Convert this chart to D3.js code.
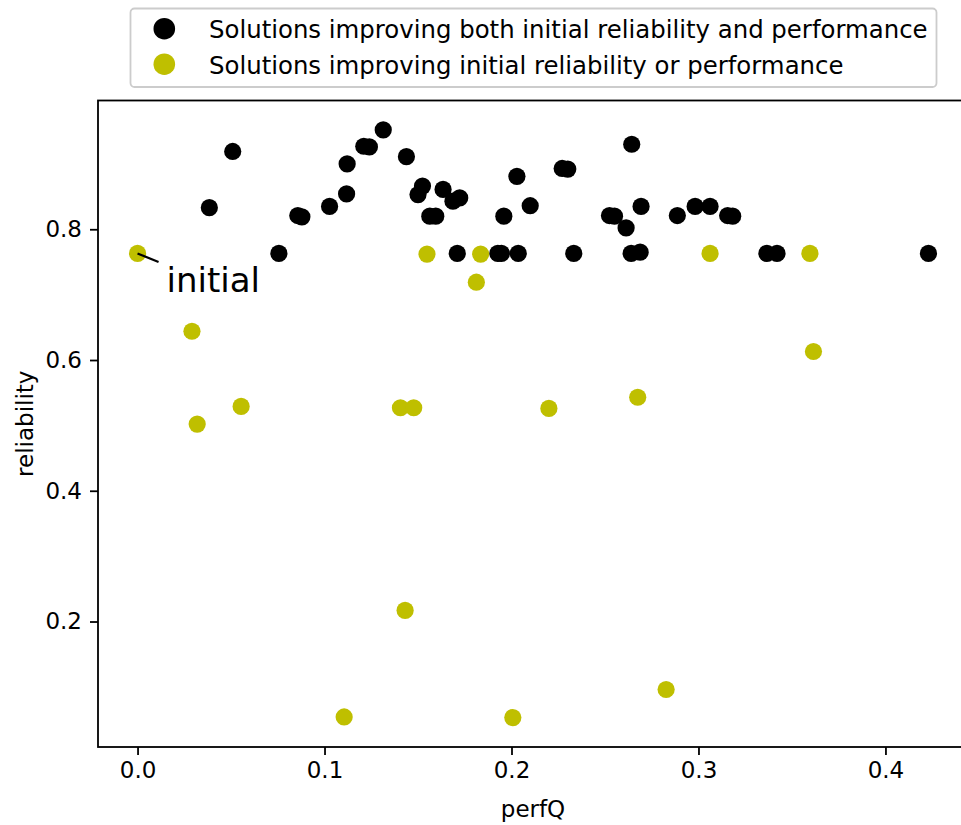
<!DOCTYPE html>
<html>
<head>
<meta charset="utf-8">
<script src="https://cdn.jsdelivr.net/npm/d3@7"></script>
<style>
  html, body { margin: 0; padding: 0; background: #fff; overflow: hidden; }
  svg { display: block; font-family: "DejaVu Sans", sans-serif; }
</style>
</head>
<body>
<svg id="chart" width="961" height="825"></svg>
<script>
// ---- data ----
const seriesNames = [
  "Solutions improving both initial reliability and performance",
  "Solutions improving initial reliability or performance"
];
const bothX = [0.0509, 0.0384, 0.0756, 0.0857, 0.0879, 0.1027, 0.1118, 0.1121, 0.1210, 0.1240,
               0.1314, 0.1438, 0.1524, 0.1500, 0.1634, 0.1687, 0.1723, 0.1563, 0.1595, 0.1710,
               0.1927, 0.1946, 0.2036, 0.1959, 0.2029, 0.2100, 0.2271, 0.2301, 0.2333, 0.2643,
               0.2524, 0.2551, 0.2613, 0.2693, 0.2640, 0.2688, 0.2887, 0.2982, 0.3062, 0.3156,
               0.3183, 0.3366, 0.3420, 0.4230];
const bothY = [0.919, 0.833, 0.763, 0.821, 0.819, 0.835, 0.854, 0.900, 0.927, 0.926,
               0.952, 0.911, 0.866, 0.853, 0.861, 0.843, 0.848, 0.820, 0.820, 0.763,
               0.763, 0.763, 0.763, 0.820, 0.881, 0.836, 0.893, 0.892, 0.763, 0.930,
               0.821, 0.820, 0.802, 0.835, 0.763, 0.765, 0.821, 0.835, 0.835, 0.821,
               0.820, 0.763, 0.763, 0.763];
const eitherX = [0.0000, 0.0291, 0.0319, 0.0554, 0.1406, 0.1477, 0.1548, 0.1835, 0.1812, 0.2200,
                 0.2675, 0.3062, 0.3596, 0.3615, 0.1431, 0.1105, 0.2007, 0.2827];
const eitherY = [0.763, 0.644, 0.502, 0.529, 0.527, 0.527, 0.762, 0.762, 0.719, 0.526,
                 0.543, 0.763, 0.763, 0.613, 0.217, 0.054, 0.053, 0.096];
const xTicks = [0.0, 0.1, 0.2, 0.3, 0.4];
const yTicks = [0.2, 0.4, 0.6, 0.8];
const xLabel = "perfQ";
const yLabel = "reliability";
const annotationText = "initial";
const annotationIndex = 0; // point of eitherX/eitherY that is annotated

// ---- layout / style ----
const colors = ["#000000", "#bfbf00"];
const plot = { left: 98, right: 968, top: 100.5, bottom: 747 };
const tickFont = 23, labelFont = 23, legendFont = 24.4, annFont = 34;

const svg = d3.select("#chart");

function padded(ext) {
  const p = (ext[1] - ext[0]) * 0.05;
  return [ext[0] - p, ext[1] + p];
}
const xExt = d3.extent(bothX.concat(eitherX));
const yExt = d3.extent(bothY.concat(eitherY));
const x = d3.scaleLinear().domain(padded(xExt)).range([plot.left, plot.right]);
const y = d3.scaleLinear().domain(padded(yExt)).range([plot.bottom, plot.top]);

// axes
const xAxis = d3.axisBottom(x).tickValues(xTicks).tickFormat(d3.format(".1f")).tickSize(8).tickPadding(7);
const yAxis = d3.axisLeft(y).tickValues(yTicks).tickFormat(d3.format(".1f")).tickSize(8).tickPadding(8);

const gx = svg.append("g").attr("transform", `translate(0,${plot.bottom})`).call(xAxis);
const gy = svg.append("g").attr("transform", `translate(${plot.left},0)`).call(yAxis);
[gx, gy].forEach(g => {
  g.select(".domain").remove();
  g.selectAll(".tick line").attr("stroke", "#000").attr("stroke-width", 1.8);
  g.selectAll(".tick text").attr("fill", "#000").style("font-size", tickFont + "px")
    .style("font-family", "DejaVu Sans");
});

// spines
svg.append("rect")
  .attr("x", plot.left).attr("y", plot.top)
  .attr("width", plot.right - plot.left).attr("height", plot.bottom - plot.top)
  .attr("fill", "none").attr("stroke", "#000").attr("stroke-width", 1.8);

// axis labels
svg.append("text").attr("x", (plot.left + plot.right) / 2).attr("y", 817)
  .attr("text-anchor", "middle").style("font-size", labelFont + "px").text(xLabel);
svg.append("text").attr("transform", `translate(33,${(plot.top + plot.bottom) / 2}) rotate(-90)`)
  .attr("text-anchor", "middle").style("font-size", labelFont + "px").text(yLabel);

// points
const r = 8.6;
const both = bothX.map((v, i) => ({ x: v, y: bothY[i] }));
const either = eitherX.map((v, i) => ({ x: v, y: eitherY[i] }));
svg.append("g").selectAll("circle").data(both).join("circle")
  .attr("cx", d => x(d.x)).attr("cy", d => y(d.y)).attr("r", r).attr("fill", colors[0]);
svg.append("g").selectAll("circle").data(either).join("circle")
  .attr("cx", d => x(d.x)).attr("cy", d => y(d.y)).attr("r", r).attr("fill", colors[1]);

// annotation
const ax = x(eitherX[annotationIndex]), ay = y(eitherY[annotationIndex]);
svg.append("line").attr("x1", ax).attr("y1", ay).attr("x2", ax + 21).attr("y2", ay + 8.5)
  .attr("stroke", "#000").attr("stroke-width", 2.2);
svg.append("text").attr("x", ax + 29).attr("y", ay + 39)
  .style("font-size", annFont + "px").attr("fill", "#000").text(annotationText);

// legend
const lg = svg.append("g");
lg.append("rect").attr("x", 130.5).attr("y", 8.5).attr("width", 806).attr("height", 78.5)
  .attr("rx", 4).attr("fill", "#fff").attr("fill-opacity", 0.8)
  .attr("stroke", "#cccccc").attr("stroke-width", 1.8);
seriesNames.forEach((name, i) => {
  const cy = 28.7 + i * 35.5;
  lg.append("circle").attr("cx", 164.3).attr("cy", cy).attr("r", 10.8).attr("fill", colors[i]);
  lg.append("text").attr("x", 209).attr("y", cy + 9.5)
    .style("font-size", legendFont + "px").attr("fill", "#000").text(name);
});
</script>
</body>
</html>
